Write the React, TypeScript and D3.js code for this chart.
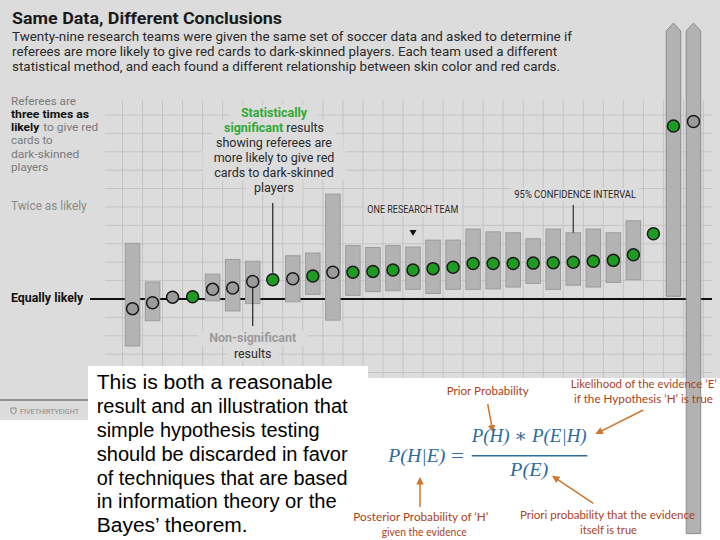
import React from 'react';
import * as d3 from 'd3';

// ---- data ----
const teams = d3.range(29);
const estimates = [0.895, 0.96, 1.02, 1.025, 1.105, 1.12, 1.19, 1.21, 1.22, 1.25, 1.29, 1.29, 1.3, 1.315, 1.315, 1.33, 1.345, 1.385, 1.385, 1.385, 1.39, 1.395, 1.4, 1.41, 1.42, 1.48, 1.71, 2.88, 2.93];
const ciLow: (number | null)[] = [0.489, 0.764, null, null, 0.98, 0.87, 0.95, null, 0.97, 1.05, 0.77, 1.04, 1.08, 1.09, 1.105, 1.06, 1.105, 1.105, 1.11, 1.13, 1.17, 1.105, 1.15, 1.13, 1.18, 1.21, null, 1.03, -1.55];
const ciHigh: (number | null)[] = [1.605, 1.185, null, null, 1.27, 1.43, 1.41, null, 1.47, 1.5, 2.14, 1.58, 1.56, 1.58, 1.565, 1.64, 1.64, 1.76, 1.73, 1.72, 1.655, 1.76, 1.72, 1.76, 1.72, 1.85, null, 4.0, 4.0];
const significant = [0, 0, 0, 1, 0, 0, 0, 1, 0, 1, 0, 1, 1, 1, 1, 1, 1, 1, 1, 1, 1, 1, 1, 1, 1, 1, 1, 1, 0];
const gridLevels = d3.range(1, 16).map((k) => k * 0.2);
const clipTop = 4.0;

const subtitleLines = [
  'Twenty-nine research teams were given the same set of soccer data and asked to determine if',
  'referees are more likely to give red cards to dark-skinned players. Each team used a different',
  'statistical method, and each found a different relationship between skin color and red cards.',
];
const subtitleWidths = [560, 545, 548];

const boxLines = [
  'This is both a reasonable',
  'result and an illustration that',
  'simple hypothesis testing',
  'should be discarded in favor',
  'of techniques that are based',
  'in information theory or the',
  'Bayes\u2019 theorem.',
];
const boxWidths = [236, 251, 223, 251, 251, 240, 151];

const BG = '#dcdcdc';
const GRID = '#c3c3c3';
const GREEN = '#1f9a22';
const GREEN_TXT = '#2faa35';
const BROWN = '#ac421c';
const ORANGE = '#d0762e';
const BLUE = '#2d6a9c';

export default function App() {
  const W = 720;
  const H = 540;
  const x = d3.scaleBand<number>().domain(teams).range([122.5, 703.5]).padding(0);
  const y = d3.scaleLinear().domain([1, 3]).range([299, 115]);
  const cx = (i: number) => (x(i) as number) + x.bandwidth() / 2;
  const barW = 14.5;
  const gridTop = 100;
  const gridBottom = 378;
  const boundaries = d3.range(30).map((i) => 122.5 + i * x.step());

  const sigRows = [
    { parts: [{ t: 'Statistically', g: true }], w: 76, b: 117 },
    { parts: [{ t: 'significant', g: true }, { t: ' results', g: false }], w: 112, b: 132 },
    { parts: [{ t: 'showing referees are', g: false }], w: 126, b: 147 },
    { parts: [{ t: 'more likely to give red', g: false }], w: 131, b: 162 },
    { parts: [{ t: 'cards to dark-skinned', g: false }], w: 131, b: 177 },
    { parts: [{ t: 'players', g: false }], w: 45, b: 192 },
  ];
  const sigCx = 274;

  const arrowMarker = (
    <marker id="arr" viewBox="0 0 10 10" refX="8" refY="5" markerWidth="5" markerHeight="5" orient="auto-start-reverse">
      <path d="M0,0 L10,5 L0,10 z" fill={ORANGE} />
    </marker>
  );

  return (
    <svg width={W} height={H} style={{ position: 'fixed', left: 0, top: 0, background: '#fff' }} fontFamily="Roboto, 'Noto Sans', sans-serif">
      <defs>{arrowMarker}</defs>
      {/* background */}
      <rect x={0} y={0} width={W} height={gridBottom} fill={BG} />
      <rect x={0} y={gridBottom} width={88} height={420 - gridBottom} fill={BG} />

      {/* grid */}
      {boundaries.map((bx, i) => (
        <line key={'v' + i} x1={bx} x2={bx} y1={gridTop} y2={gridBottom} stroke={GRID} strokeWidth={1} />
      ))}
      {gridLevels.map((v, i) => (
        <line key={'h' + i} x1={105} x2={712} y1={y(v)} y2={y(v)} stroke={GRID} strokeWidth={1} />
      ))}

      {/* title + subtitle */}
      <text x={12} y={23.5} fontSize={16} fontWeight={700} fill="#1a1a1a" textLength={270} lengthAdjust="spacingAndGlyphs">
        Same Data, Different Conclusions
      </text>
      {subtitleLines.map((t, i) => (
        <text key={'s' + i} x={12} y={40.5 + i * 15} fontSize={13} fill="#2a2a2a" textLength={subtitleWidths[i]} lengthAdjust="spacingAndGlyphs">
          {t}
        </text>
      ))}

      {/* left labels */}
      <g fontSize={11}>
        <text x={11} y={105} fill="#7a7a7a" textLength={65} lengthAdjust="spacingAndGlyphs">Referees are</text>
        <text x={11} y={118} fill="#111" fontWeight={700} textLength={78} lengthAdjust="spacingAndGlyphs">three times as</text>
        <text x={11} y={131} fill="#111" fontWeight={700} textLength={28.3} lengthAdjust="spacingAndGlyphs">likely</text>
        <text x={43.3} y={131} fill="#7a7a7a" textLength={55} lengthAdjust="spacingAndGlyphs">to give red</text>
        <text x={11} y={144.3} fill="#7a7a7a" textLength={41.7} lengthAdjust="spacingAndGlyphs">cards to</text>
        <text x={11} y={157.7} fill="#7a7a7a" textLength={68.3} lengthAdjust="spacingAndGlyphs">dark-skinned</text>
        <text x={11} y={171} fill="#7a7a7a" textLength={37.3} lengthAdjust="spacingAndGlyphs">players</text>
        <text x={11} y={209.5} fill="#8a8a8a" fontSize={12} textLength={75.7} lengthAdjust="spacingAndGlyphs">Twice as likely</text>
        <text x={11} y={302} fill="#111" fontWeight={700} fontSize={12} textLength={72.3} lengthAdjust="spacingAndGlyphs">Equally likely</text>
      </g>

      {/* equally likely line */}
      <line x1={90} x2={712} y1={y(1)} y2={y(1)} stroke="#111" strokeWidth={2} />

      {/* confidence bars */}
      {teams.map((i) => {
        const lo = ciLow[i];
        const hi = ciHigh[i];
        if (lo === null || hi === null) return null;
        const x0 = cx(i) - barW / 2;
        const yb = y(lo);
        if (hi >= clipTop) {
          const yt = y(clipTop);
          const d = `M${x0},${yb} L${x0},${yt + 8} L${cx(i)},${yt} L${x0 + barW},${yt + 8} L${x0 + barW},${yb} Z`;
          return <path key={'b' + i} d={d} fill="#b2b2b2" stroke="#8c8c8c" strokeWidth={1} />;
        }
        return <rect key={'b' + i} x={x0} y={y(hi)} width={barW} height={yb - y(hi)} fill="#b3b3b3" stroke="#9c9c9c" strokeWidth={1} />;
      })}

      {/* annotation: statistically significant */}
      {sigRows.map((r, i) => (
        <rect key={'sr' + i} x={sigCx - r.w / 2 - 6} y={r.b - 12} width={r.w + 12} height={15} fill={BG} />
      ))}
      {sigRows.map((r, i) => (
        <text key={'st' + i} x={sigCx} y={r.b} textAnchor="middle" fontSize={12.5} fill="#2a2a2a">
          {r.parts.map((p, k) => (
            <tspan key={k} fill={p.g ? GREEN_TXT : '#2a2a2a'} fontWeight={p.g ? 700 : 400}>{p.t}</tspan>
          ))}
        </text>
      ))}
      <line x1={cx(7)} x2={cx(7)} y1={203} y2={y(estimates[7]) - 7} stroke="#222" strokeWidth={1.2} />

      {/* annotation: non-significant */}
      <rect x={cx(6) - 55} y={331} width={110} height={15} fill={BG} />
      <rect x={cx(6) - 26} y={346} width={52} height={15} fill={BG} />
      <line x1={cx(6)} x2={cx(6)} y1={y(estimates[6]) + 6} y2={326} stroke="#222" strokeWidth={1.2} />
      <text x={cx(6)} y={342} textAnchor="middle" fontSize={12.5} fontWeight={700} fill="#9a9a9a">Non-significant</text>
      <text x={cx(6)} y={357.5} textAnchor="middle" fontSize={12.5} fill="#2a2a2a">results</text>

      {/* annotation: one research team */}
      <rect x={364} y={203} width={98} height={13} fill={BG} />
      <text x={367.3} y={213.3} fontSize={10.5} fill="#2a2a2a" textLength={91} lengthAdjust="spacingAndGlyphs">ONE RESEARCH TEAM</text>
      <path d={`M${cx(14) - 3.5},${230} L${cx(14) + 3.5},${230} L${cx(14)},${236} Z`} fill="#111" />

      {/* annotation: 95% CI */}
      <rect x={511} y={188} width={128} height={13} fill={BG} />
      <text x={514.3} y={198} fontSize={10.5} fill="#2a2a2a" textLength={121.7} lengthAdjust="spacingAndGlyphs">95% CONFIDENCE INTERVAL</text>
      <line x1={cx(22)} x2={cx(22)} y1={205} y2={y(ciHigh[22] as number)} stroke="#333" strokeWidth={1.2} />

      {/* points */}
      {teams.map((i) => (
        <circle key={'p' + i} cx={cx(i)} cy={y(estimates[i])} r={6} fill={significant[i] ? GREEN : '#9b9b9b'} stroke="#1a1a1a" strokeWidth={1.5} />
      ))}

      {/* fivethirtyeight footer */}
      <line x1={0} x2={90} y1={400} y2={400} stroke="#7a7a7a" strokeWidth={1.5} />
      <path d="M11,408 L16,408 L16,412 Q13.5,416 11,412 Z" fill="none" stroke="#888" strokeWidth={1} />
      <text x={20} y={413.5} fontSize={7.5} fill="#888" textLength={59} lengthAdjust="spacingAndGlyphs">FIVETHIRTYEIGHT</text>

      {/* white regions for overlays */}
      <rect x={88} y={366} width={280} height={H - 366} fill="#fff" />

      <g fontFamily="'Liberation Sans', Arial, sans-serif" fontSize={20} fill="#000">
        {boxLines.map((t, i) => (
          <text key={'bx' + i} x={96.7} y={389.3 + i * 23.8} textLength={boxWidths[i]} lengthAdjust="spacingAndGlyphs">
            {t}
          </text>
        ))}
      </g>

      {/* Bayes formula */}
      <g fontFamily="Lato, 'Noto Sans', sans-serif" fontSize={10.5} fill={BROWN}>
        <text x={446.7} y={395} textLength={82} lengthAdjust="spacingAndGlyphs">Prior Probability</text>
        <text x={570.7} y={387.5} textLength={146} lengthAdjust="spacingAndGlyphs">Likelihood of the evidence {'\u2018E\u2019'}</text>
        <text x={574} y={403.3} textLength={139} lengthAdjust="spacingAndGlyphs">if the Hypothesis {'\u2018H\u2019'} is true</text>
        <text x={353.3} y={520.5} textLength={135} lengthAdjust="spacingAndGlyphs">Posterior Probability of {'\u2018H\u2019'}</text>
        <text x={381.7} y={536} textLength={85} lengthAdjust="spacingAndGlyphs">given the evidence</text>
        <text x={520} y={518.5} textLength={175} lengthAdjust="spacingAndGlyphs">Priori probability that the evidence</text>
        <text x={580} y={534} textLength={57} lengthAdjust="spacingAndGlyphs">itself is true</text>
      </g>
      <g stroke={ORANGE} strokeWidth={1.5} fill="none">
        <line x1={487.7} y1={404} x2={492.7} y2={431} markerEnd="url(#arr)" />
        <line x1={643.3} y1={410} x2={596.7} y2={433.3} markerEnd="url(#arr)" />
        <line x1={593.3} y1={503.3} x2={553.3} y2={476.7} markerEnd="url(#arr)" />
        <line x1={420} y1={507} x2={420} y2={478.5} markerEnd="url(#arr)" />
      </g>
      <g fontFamily="'Liberation Serif', 'DejaVu Serif', serif" fontStyle="italic" fontSize={19} fill={BLUE}>
        <text x={388.3} y={461.7} textLength={57} lengthAdjust="spacingAndGlyphs">P(H|E)</text>
        <text x={451} y={461.7} fontStyle="normal" textLength={13} lengthAdjust="spacingAndGlyphs">=</text>
        <text x={471.7} y={441.7} textLength={115} lengthAdjust="spacingAndGlyphs">P(H) ∗ P(E|H)</text>
        <text x={510} y={476} textLength={38.3} lengthAdjust="spacingAndGlyphs">P(E)</text>
      </g>
      <line x1={471.7} x2={587.3} y1={455.7} y2={455.7} stroke={BLUE} strokeWidth={1.6} />
    </svg>
  );
}
